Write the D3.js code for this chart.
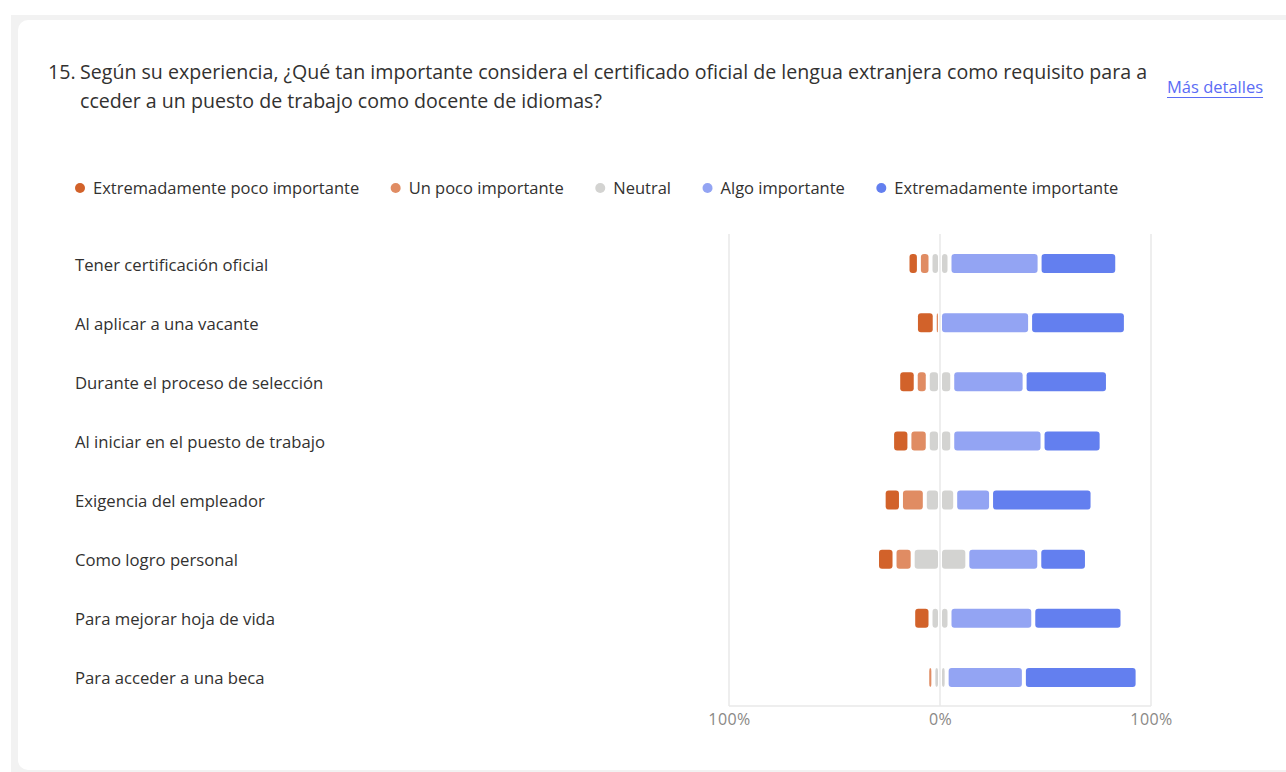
<!DOCTYPE html>
<html>
<head>
<meta charset="utf-8">
<script src="https://cdn.jsdelivr.net/npm/d3@7/dist/d3.min.js"></script>
<style>
  html, body { margin: 0; padding: 0; background: #ffffff; }
  svg { display: block; }
  text { font-family: "Open Sans", "Noto Sans", sans-serif; }
</style>
</head>
<body>
<svg id="chart" width="1286" height="772"></svg>
<script>
// Survey question and answer scale
const titleLines = [
  "15. Según su experiencia, ¿Qué tan importante considera el certificado oficial de lengua extranjera como requisito para a",
  "cceder a un puesto de trabajo como docente de idiomas?"
];
const linkText = "Más detalles";

const categories = [
  "Tener certificación oficial",
  "Al aplicar a una vacante",
  "Durante el proceso de selección",
  "Al iniciar en el puesto de trabajo",
  "Exigencia del empleador",
  "Como logro personal",
  "Para mejorar hoja de vida",
  "Para acceder a una beca"
];

const seriesNames = [
  "Extremadamente poco importante",
  "Un poco importante",
  "Neutral",
  "Algo importante",
  "Extremadamente importante"
];
const seriesColors = ["#d2622a", "#e08c63", "#d3d3d1", "#93a4f3", "#637fef"];

// Share of answers per statement (%)
const extPoco  = [5.4, 8.9, 8.3, 8.2, 8.2, 8.3, 8.2, 0];
const unPoco   = [5.5, 2.5, 5.7, 8.7, 11.3, 8.6, 0, 2.9];
const neutral  = [9.0, 0, 11.6, 11.6, 14.4, 25.9, 9.0, 6.3];
const algo     = [42.7, 42.7, 34.3, 42.8, 17.0, 34.1, 39.7, 36.6];
const extImp   = [36.8, 45.4, 39.5, 28.0, 48.1, 22.6, 42.3, 53.9];

const axisTicks = [-100, 0, 100];
const tickLabel = v => Math.abs(v) + "%";

const svg = d3.select("#chart");

// page frame: grey surround and white card
svg.append("rect").attr("x", 11).attr("y", 15).attr("width", 1300).attr("height", 800).attr("fill", "#f2f2f2");
svg.append("rect").attr("x", 18).attr("y", 20).attr("width", 1300).attr("height", 750)
  .attr("rx", 10).attr("fill", "#ffffff");

// title
const title = svg.append("g").attr("fill", "#323130").style("font-size", "19.6px");
title.append("text").attr("x", 48).attr("y", 79).text(titleLines[0].slice(0, 3));
title.append("text").attr("x", 80).attr("y", 79).text(titleLines[0].slice(4));
title.append("text").attr("x", 80).attr("y", 108).text(titleLines[1]);

const link = svg.append("text").attr("x", 1167).attr("y", 93)
  .attr("fill", "#5b6cf5").style("font-size", "16.5px").text(linkText);
const lw = link.node().getComputedTextLength();
svg.append("line").attr("x1", 1167).attr("x2", 1167 + lw).attr("y1", 97.5).attr("y2", 97.5)
  .attr("stroke", "#5b6cf5").attr("stroke-width", 1);

// legend
const legend = svg.append("g").attr("transform", "translate(80,188)");
let lx = 0;
seriesNames.forEach((name, i) => {
  const g = legend.append("g").attr("transform", `translate(${lx},0)`);
  g.append("circle").attr("r", 5).attr("fill", seriesColors[i]);
  const t = g.append("text").attr("x", 13).attr("y", 6)
    .attr("fill", "#323130").style("font-size", "16.5px").text(name);
  lx += 13 + t.node().getComputedTextLength() + 36.5;
});

// scales
const x = d3.scaleLinear().domain([-100, 100]).range([729, 1151]);
const y = d3.scaleBand().domain(categories).range([234, 707]);
const barH = 19;

// grid
const grid = svg.append("g");
grid.selectAll("line.v").data(axisTicks).join("line")
  .attr("x1", d => x(d)).attr("x2", d => x(d))
  .attr("y1", 234).attr("y2", 706)
  .attr("stroke", "#e9e9e9").attr("stroke-width", 1.5);
grid.append("line").attr("x1", x(-100)).attr("x2", x(100)).attr("y1", 706).attr("y2", 706)
  .attr("stroke", "#e9e9e9").attr("stroke-width", 1.5);

// x axis labels
const xAxis = d3.axisBottom(x).tickValues(axisTicks).tickFormat(tickLabel).tickSize(0).tickPadding(8);
const ax = svg.append("g").attr("transform", "translate(0,706)").call(xAxis);
ax.select(".domain").remove();
ax.selectAll("text").attr("fill", "#8a8886").style("font-size", "16px")
  .style("letter-spacing", "0.4px")
  .style("font-family", '"Open Sans", sans-serif');

// category labels
svg.append("g").selectAll("text").data(categories).join("text")
  .attr("x", 75).attr("y", d => y(d) + y.bandwidth() / 2 + 7)
  .attr("fill", "#323130").style("font-size", "16.7px").text(d => d);

// diverging segments: neutral split around zero
const segs = [];
categories.forEach((c, i) => {
  const nh = neutral[i] / 2;
  let left = -nh;
  segs.push({ c, k: 2, x0: -nh, x1: 0 });
  segs.push({ c, k: 2, x0: 0, x1: nh });
  segs.push({ c, k: 1, x0: left - unPoco[i], x1: left });
  left -= unPoco[i];
  segs.push({ c, k: 0, x0: left - extPoco[i], x1: left });
  let right = nh;
  segs.push({ c, k: 3, x0: right, x1: right + algo[i] });
  right += algo[i];
  segs.push({ c, k: 4, x0: right, x1: right + extImp[i] });
});

const inset = 2;
svg.append("g").selectAll("rect").data(segs.filter(s => s.x1 - s.x0 > 0)).join("rect")
  .attr("x", s => x(s.x0) + inset)
  .attr("width", s => Math.max(x(s.x1) - x(s.x0) - 2 * inset, 1.2))
  .attr("y", s => y(s.c) + y.bandwidth() / 2 - barH / 2)
  .attr("height", barH)
  .attr("rx", 3)
  .attr("fill", s => seriesColors[s.k]);
</script>
</body>
</html>
